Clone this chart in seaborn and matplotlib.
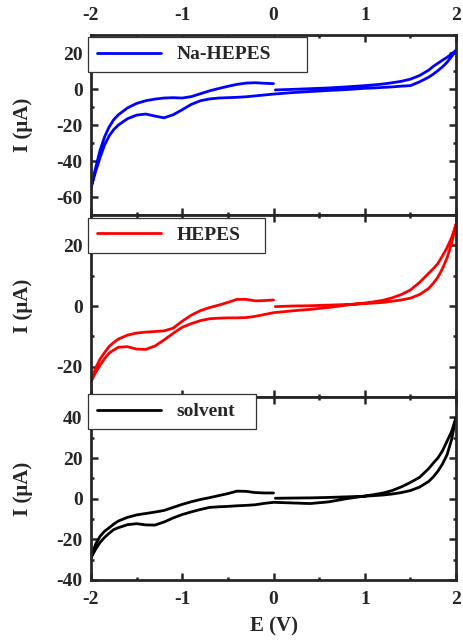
import numpy as np
import pandas as pd
import matplotlib
matplotlib.use("Agg")
import matplotlib.pyplot as plt
from matplotlib.ticker import MultipleLocator
import seaborn as sns

# potential grids (V) for the four parts of each cyclic scan
e_anodic = [0.02, 0.2, 0.4, 0.6, 0.8, 1.0, 1.1, 1.2, 1.3, 1.4, 1.5, 1.6, 1.7, 1.75, 1.8, 1.85, 1.9, 1.95, 2.0]
e_back = [2.0, 1.95, 1.9, 1.85, 1.8, 1.75, 1.7, 1.6, 1.5, 1.4, 1.3, 1.2, 1.1, 1.0, 0.8, 0.6, 0.4, 0.2, 0.0]
e_cath = [-0.1, -0.2, -0.3, -0.4, -0.5, -0.6, -0.7, -0.8, -0.9, -1.0, -1.1, -1.2, -1.3, -1.4, -1.5, -1.6, -1.7,
          -1.75, -1.8, -1.85, -1.9, -1.95, -2.0]
e_ret = [-1.95, -1.9, -1.85, -1.8, -1.75, -1.7, -1.6, -1.5, -1.4, -1.3, -1.2, -1.1, -1.0, -0.9, -0.8, -0.7, -0.6,
         -0.5, -0.4, -0.3, -0.2, -0.1, 0.0]

# currents (uA)
na_fwd = [-0.5, -0.2, 0.2, 0.6, 1.2, 1.9, 2.3, 2.8, 3.5, 4.3, 5.5, 7.5, 10.5, 12.6, 14.3, 16.0, 17.6, 19.5, 21.5]
na_back = [21.5, 18.0, 14.8, 12.3, 10.2, 8.3, 6.6, 4.0, 1.9, 1.6, 1.2, 0.9, 0.6, 0.4, -0.3, -0.8, -1.4, -2.0, -2.8]
na_cath = [-3.3, -3.8, -4.3, -4.6, -4.8, -5.0, -5.5, -6.5, -8.5, -11.5, -14.3, -16.0, -15.0, -13.9, -14.5, -16.5,
           -20.0, -22.5, -26.0, -31.0, -38.0, -46.0, -55.0]
na_ret = [-44.0, -34.0, -26.5, -21.0, -17.0, -14.3, -10.5, -8.0, -6.5, -5.6, -5.0, -4.8, -5.0, -4.2, -2.6, -1.0,
          0.3, 1.5, 2.6, 3.3, 3.5, 3.2, 3.0]

hep_fwd = [-0.2, 0.0, 0.1, 0.3, 0.5, 0.8, 1.0, 1.2, 1.6, 2.0, 2.6, 3.8, 5.8, 7.5, 9.5, 12.3, 15.8, 20.5, 27.0]
hep_back = [27.0, 22.5, 19.2, 16.5, 14.0, 12.3, 10.8, 7.8, 5.3, 3.8, 2.7, 1.9, 1.4, 1.0, 0.3, -0.5, -1.1, -1.6, -2.2]
hep_cath = [-2.8, -3.4, -3.8, -3.9, -3.9, -4.0, -4.2, -4.8, -5.8, -7.0, -9.0, -11.2, -13.2, -14.3, -14.2, -13.4,
            -13.6, -14.5, -15.5, -17.3, -19.5, -22.0, -25.0]
hep_ret = [-20.5, -17.5, -15.3, -13.3, -12.0, -10.9, -9.6, -8.9, -8.6, -8.4, -8.2, -7.3, -5.0, -3.0, -1.5, -0.5,
           0.3, 1.2, 2.2, 2.2, 1.7, 1.8, 2.0]

sol_fwd = [0.2, 0.3, 0.4, 0.6, 0.9, 1.2, 1.5, 1.8, 2.3, 3.0, 4.0, 5.7, 8.5, 10.7, 13.5, 17.0, 21.5, 29.0, 40.0]
sol_back = [40.0, 33.0, 28.2, 23.5, 20.0, 17.5, 14.8, 10.5, 8.0, 5.8, 4.0, 2.8, 2.0, 1.3, 0.0, -1.6, -2.4, -2.1, -1.8]
sol_cath = [-2.3, -3.0, -3.3, -3.5, -3.8, -4.0, -4.3, -5.3, -6.5, -7.8, -9.5, -11.5, -13.0, -12.9, -12.3, -12.8,
            -14.3, -15.2, -17.0, -19.0, -21.5, -25.0, -29.0]
sol_ret = [-22.5, -18.5, -16.0, -14.3, -12.5, -11.0, -9.2, -8.0, -7.3, -6.6, -5.8, -4.3, -2.8, -1.5, -0.4, 0.5,
           1.5, 2.5, 3.7, 3.6, 3.0, 2.8, 2.8]

labels = ["Na-HEPES", "HEPES", "solvent"]
colors = ["#0000ff", "#ff0000", "#000000"]
currents = [(na_fwd, na_back, na_cath, na_ret),
            (hep_fwd, hep_back, hep_cath, hep_ret),
            (sol_fwd, sol_back, sol_cath, sol_ret)]
ylims = [(-70, 30), (-30, 30), (-40, 50)]

sns.set_style("ticks")
plt.rcParams['font.family'] = ['Liberation Serif', 'DejaVu Serif']
plt.rcParams['font.weight'] = 'bold'
plt.rcParams['axes.unicode_minus'] = False

fig = plt.figure(figsize=(4.64, 6.44), dpi=100)
boxes = [[0.196, 0.6661, 0.787, 0.2795],
         [0.196, 0.3835, 0.787, 0.2826],
         [0.196, 0.0994, 0.787, 0.2841]]
leg_pos = [(-0.008, 0.989, 0.60), (-0.008, 0.984, 0.485), (-0.008, 1.016, 0.46)]

axes = []
for k in range(3):
    ax = fig.add_axes(boxes[k])
    e_all = e_anodic + e_back + e_cath + e_ret
    i_all = list(currents[k][0]) + list(currents[k][1]) + list(currents[k][2]) + list(currents[k][3])
    df = pd.DataFrame({"E": e_all, "I": i_all})
    sns.lineplot(data=df, x="E", y="I", sort=False, estimator=None, color=colors[k],
                 lw=2.0, ax=ax, label=labels[k])
    ax.set_xlim(-2, 2)
    ax.set_ylim(*ylims[k])
    ax.xaxis.set_major_locator(MultipleLocator(1))
    ax.xaxis.set_minor_locator(MultipleLocator(0.5))
    ax.yaxis.set_major_locator(MultipleLocator(20))
    ax.yaxis.set_minor_locator(MultipleLocator(10))
    ax.tick_params(which='both', direction='in', top=True, right=True, width=1.8, labelsize=14)
    ax.tick_params(which='major', length=5)
    ax.tick_params(which='minor', length=2.5)
    ax.tick_params(axis='y', pad=6)
    ax.tick_params(axis='x', pad=8)
    for sp in ax.spines.values():
        sp.set_linewidth(2.0)
    ax.set_ylabel("I (μA)", fontsize=15, fontweight='bold', labelpad=17)
    if k == 0:
        ax.tick_params(axis='x', labeltop=True, labelbottom=False)
    elif k == 1:
        ax.tick_params(axis='x', labeltop=False, labelbottom=False)
    if k == 2:
        ax.set_xlabel("E (V)", fontsize=15, fontweight='bold', labelpad=6)
    else:
        ax.set_xlabel("")
    x0, y0, w = leg_pos[k]
    leg = ax.legend(loc='upper left', bbox_to_anchor=(x0, y0, w, 0), mode='expand', borderaxespad=0,
                    fancybox=False, framealpha=1, edgecolor='#333333', handlelength=3.3, handletextpad=0.8,
                    borderpad=0.45, prop={'family': 'Liberation Serif', 'weight': 'bold', 'size': 14})
    leg.get_frame().set_linewidth(0.9)
    leg.set_zorder(10)
    axes.append(ax)

fig.align_ylabels(axes)
fig.savefig("out.png", dpi=100)
